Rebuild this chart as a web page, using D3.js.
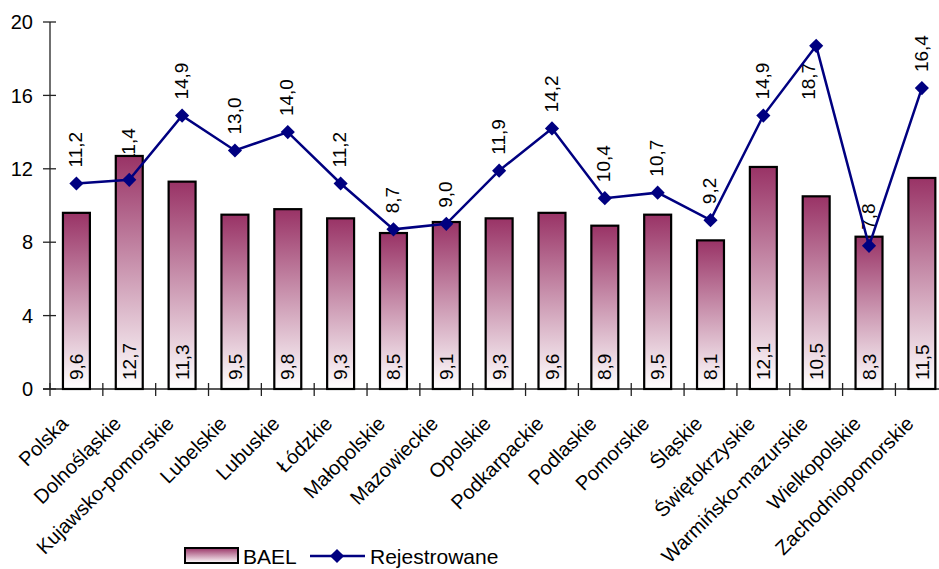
<!DOCTYPE html>
<html>
<head>
<meta charset="utf-8">
<script src="https://cdn.jsdelivr.net/npm/d3@7"></script>
<style>
  body { margin: 0; background: #fff; }
  svg { display: block; font-family: "Liberation Sans", Arial, sans-serif; }
</style>
</head>
<body>
<script>
// dane
const regions = ["Polska", "Dolnośląskie", "Kujawsko-pomorskie", "Lubelskie", "Lubuskie", "Łódzkie",
  "Małopolskie", "Mazowieckie", "Opolskie", "Podkarpackie", "Podlaskie", "Pomorskie", "Śląskie",
  "Świętokrzyskie", "Warmińsko-mazurskie", "Wielkopolskie", "Zachodniopomorskie"];
const bael = [9.6, 12.7, 11.3, 9.5, 9.8, 9.3, 8.5, 9.1, 9.3, 9.6, 8.9, 9.5, 8.1, 12.1, 10.5, 8.3, 11.5];
const rejestrowane = [11.2, 11.4, 14.9, 13.0, 14.0, 11.2, 8.7, 9.0, 11.9, 14.2, 10.4, 10.7, 9.2, 14.9, 18.7, 7.8, 16.4];
const yTicks = [0, 4, 8, 12, 16, 20];

const width = 939, height = 569;
const mLeft = 50, mTop = 22, mBottom = 389;
const bandW = 52.84;

const fmt = v => v.toFixed(1).replace(".", ",");

const svg = d3.select("body").append("svg")
  .attr("width", width)
  .attr("height", height);

// gradient słupków
const grad = svg.append("defs").append("linearGradient")
  .attr("id", "barGrad")
  .attr("x1", 0).attr("y1", 0).attr("x2", 0).attr("y2", 1);
grad.append("stop").attr("offset", "0%").attr("stop-color", "#993366");
grad.append("stop").attr("offset", "100%").attr("stop-color", "#ffffff");

const x = d3.scaleBand()
  .domain(regions)
  .range([mLeft, mLeft + bandW * regions.length])
  .padding(0);

const y = d3.scaleLinear()
  .domain([0, 20])
  .range([mBottom, mTop]);

const cx = d => x(d) + x.bandwidth() / 2;
const barW = x.bandwidth() * 0.51;

// osie
const axisColor = "#222";
svg.append("line")
  .attr("x1", mLeft).attr("x2", mLeft)
  .attr("y1", y(20)).attr("y2", y(0))
  .attr("stroke", axisColor).attr("stroke-width", 1.3);

svg.selectAll(".ytick")
  .data(yTicks)
  .join("line")
  .attr("x1", mLeft - 7).attr("x2", mLeft + 6)
  .attr("y1", d => y(d)).attr("y2", d => y(d))
  .attr("stroke", axisColor).attr("stroke-width", 1.3);

svg.selectAll(".ylab")
  .data(yTicks)
  .join("text")
  .attr("x", mLeft - 17)
  .attr("y", d => y(d))
  .attr("dy", "0.36em")
  .attr("text-anchor", "end")
  .attr("font-size", 20)
  .text(d => d);

svg.append("line")
  .attr("x1", mLeft - 7).attr("x2", width)
  .attr("y1", y(0)).attr("y2", y(0))
  .attr("stroke", axisColor).attr("stroke-width", 1.3);

svg.selectAll(".xtick")
  .data(regions)
  .join("line")
  .attr("x1", d => x(d)).attr("x2", d => x(d))
  .attr("y1", y(0) - 6).attr("y2", y(0) + 7)
  .attr("stroke", axisColor).attr("stroke-width", 1.3);

svg.selectAll(".xlab")
  .data(regions)
  .join("text")
  .attr("transform", d => `translate(${cx(d) - 7},${y(0) + 36}) rotate(-45)`)
  .attr("text-anchor", "end")
  .attr("font-size", 20)
  .text(d => d);

// etykiety linii (pod słupkami)
const lineLab = svg.append("g");
rejestrowane.forEach((v, i) => {
  const px = cx(regions[i]), py = y(v);
  const t = lineLab.append("text")
    .attr("font-size", 19)
    .attr("dy", "0.35em")
    .text(fmt(v));
  const len = t.node().getComputedTextLength();
  if (py - 16 - len < 0) {
    t.attr("text-anchor", "end")
      .attr("transform", `translate(${px - 8},${py + 17}) rotate(-90)`);
  } else {
    t.attr("transform", `translate(${px - 1},${py - 16}) rotate(-90)`);
  }
});

// słupki
svg.selectAll(".bar")
  .data(bael)
  .join("rect")
  .attr("x", (d, i) => cx(regions[i]) - barW / 2)
  .attr("y", d => y(d))
  .attr("width", barW)
  .attr("height", d => y(0) - y(d))
  .attr("fill", "url(#barGrad)")
  .attr("stroke", "#000")
  .attr("stroke-width", 2.2);

svg.selectAll(".barlab")
  .data(bael)
  .join("text")
  .attr("transform", (d, i) => `translate(${cx(regions[i])},${y(0) - 9}) rotate(-90)`)
  .attr("dy", "0.35em")
  .attr("font-size", 19)
  .text(d => fmt(d));

// linia
const line = d3.line()
  .x((d, i) => cx(regions[i]))
  .y(d => y(d));

svg.append("path")
  .datum(rejestrowane)
  .attr("d", line)
  .attr("fill", "none")
  .attr("stroke", "#000080")
  .attr("stroke-width", 2.5);

const marker = d3.symbol().type(d3.symbolSquare).size(100);
svg.selectAll(".marker")
  .data(rejestrowane)
  .join("path")
  .attr("transform", (d, i) => `translate(${cx(regions[i])},${y(d)}) rotate(45)`)
  .attr("d", marker)
  .attr("fill", "#000080");

// legenda
const lg = svg.append("g");
lg.append("rect")
  .attr("x", 185).attr("y", 548)
  .attr("width", 53).attr("height", 15)
  .attr("fill", "url(#barGrad)")
  .attr("stroke", "#000").attr("stroke-width", 2);
lg.append("text")
  .attr("x", 243).attr("y", 564)
  .attr("font-size", 21)
  .text("BAEL");
lg.append("line")
  .attr("x1", 310).attr("x2", 365)
  .attr("y1", 556).attr("y2", 556)
  .attr("stroke", "#000080").attr("stroke-width", 2.5);
lg.append("path")
  .attr("transform", "translate(337,556) rotate(45)")
  .attr("d", marker)
  .attr("fill", "#000080");
lg.append("text")
  .attr("x", 370).attr("y", 564)
  .attr("font-size", 21)
  .text("Rejestrowane");
</script>
</body>
</html>
